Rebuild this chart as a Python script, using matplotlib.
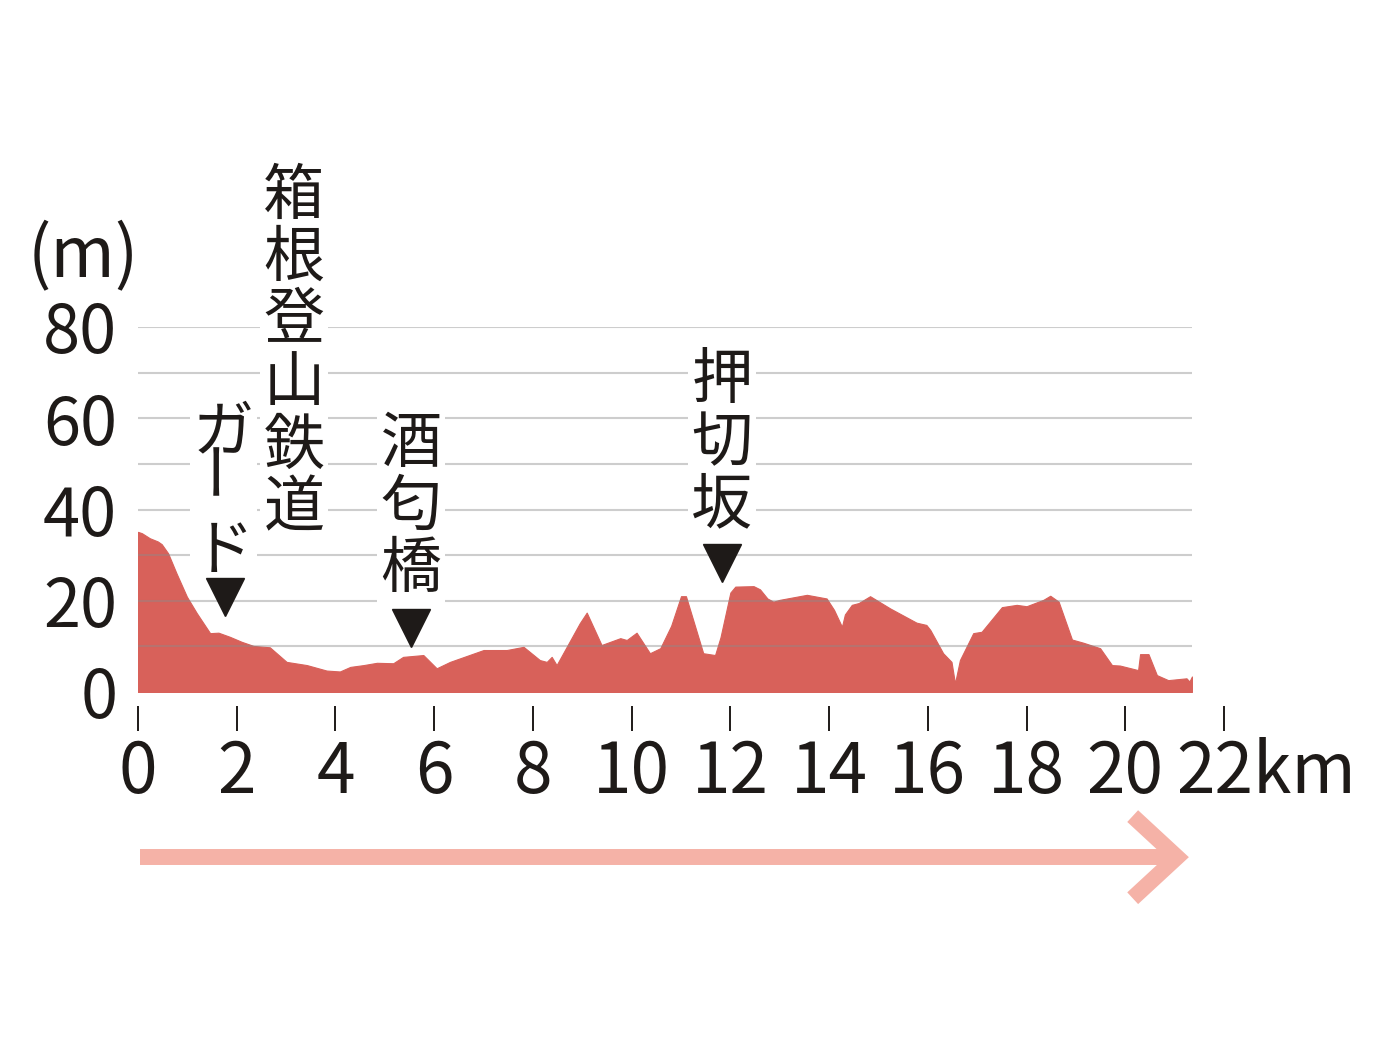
import matplotlib
matplotlib.use('Agg')
import matplotlib.pyplot as plt
from matplotlib.transforms import ScaledTranslation

plt.rcParams['font.family'] = ['Noto Sans CJK JP', 'DejaVu Sans']

# elevation profile (km, m)
dist_km = [0.0, 0.08, 0.24, 0.40, 0.48, 0.61, 0.78, 0.99, 1.19, 1.46, 1.63, 1.86,
           2.10, 2.34, 2.67, 3.01, 3.42, 3.82, 4.09, 4.30, 4.57, 4.84, 5.17, 5.37,
           5.78, 6.05, 6.32, 7.00, 7.47, 7.81, 8.14, 8.28, 8.38, 8.48, 8.95, 9.09,
           9.39, 9.77, 9.90, 10.10, 10.37, 10.58, 10.80, 11.00, 11.10, 11.45, 11.69,
           11.80, 12.00, 12.10, 12.47, 12.60, 12.75, 12.87, 13.00, 13.30, 13.55,
           13.95, 14.10, 14.26, 14.32, 14.46, 14.60, 14.83, 15.24, 15.77, 15.97,
           16.05, 16.31, 16.48, 16.55, 16.65, 16.92, 17.09, 17.50, 17.80, 18.00,
           18.34, 18.48, 18.65, 18.92, 19.15, 19.49, 19.73, 19.89, 20.26, 20.30,
           20.47, 20.64, 20.87, 21.24, 21.30, 21.35]
elev_m = [35.1, 34.8, 33.7, 33.0, 32.4, 30.4, 26.0, 20.9, 17.3, 12.9, 13.0, 12.1,
          11.0, 10.1, 9.8, 6.6, 5.9, 4.7, 4.5, 5.5, 5.9, 6.4, 6.3, 7.7,
          8.1, 5.2, 6.6, 9.2, 9.2, 9.9, 7.0, 6.6, 7.7, 5.9, 15.1, 17.4,
          10.3, 11.8, 11.4, 13.0, 8.5, 9.6, 14.5, 21.0, 21.0, 8.5, 8.1,
          12.0, 21.8, 23.1, 23.2, 22.5, 20.5, 19.8, 20.2, 20.8, 21.3,
          20.5, 18.0, 14.3, 17.0, 19.1, 19.5, 21.0, 18.3, 15.2, 14.7,
          13.6, 8.5, 6.6, 1.9, 7.0, 12.9, 13.2, 18.6, 19.1, 18.8,
          20.2, 21.1, 19.8, 11.5, 10.8, 9.6, 5.9, 5.8, 4.8, 8.3,
          8.3, 3.7, 2.6, 3.0, 2.3, 3.4]

y_ticks = [0, 20, 40, 60, 80]
grid_levels = [10, 20, 30, 40, 50, 60, 70, 80]
x_ticks = [0, 2, 4, 6, 8, 10, 12, 14, 16, 18, 20, 22]
x_labels = ['0', '2', '4', '6', '8', '10', '12', '14', '16', '18', '20', '22km']

# landmarks
landmark_names = ['酒匂橋', '押切坂']
landmark_km = [5.53, 11.83]
landmark_y = [14.0, 28.3]
landmark_top = [61.0, 75.0]
guard_km = 1.76
guard_y = 20.8

INK = '#1e1a18'
FILL = '#d8615a'
PINK = '#f5b2a7'

fig = plt.figure(figsize=(13.86, 10.53), dpi=100)
ax = fig.add_axes([138 / 1386, 1 - 692 / 1053, 1086 / 1386, 365 / 1053])
ax.set_xlim(0, 22)
ax.set_ylim(0, 80)

ax.fill_between(dist_km, elev_m, 0, color=FILL, lw=0.8, zorder=2)
ax.hlines(grid_levels, 0, dist_km[-1], colors='#8a8a8a', lw=1.5, alpha=0.42, zorder=3)

for s in ax.spines.values():
    s.set_visible(False)
ax.spines['bottom'].set_position(('outward', 10))

ax.set_yticks(y_ticks)
ax.set_yticklabels([str(v) for v in y_ticks], fontsize=48, color=INK)
ax.tick_params(axis='y', length=0, pad=15)
ax.set_xticks(x_ticks)
ax.set_xticklabels(x_labels, fontsize=50, color=INK)
ax.tick_params(axis='x', length=18, width=1.4, color=INK, pad=5)
# keep "22" centred on its tick, "km" hangs to the right
last = ax.get_xticklabels()[-1]
last.set_transform(last.get_transform() + ScaledTranslation(0.42, 0, fig.dpi_scale_trans))

ax.text(-1.11, 95.3, '(m)', fontsize=50, color=INK, ha='center', va='center', clip_on=False)

# markers
ax.plot(landmark_km + [guard_km], landmark_y + [guard_y], linestyle='none', marker='v',
        ms=27, color=INK, zorder=5, clip_on=False)

box = dict(facecolor='white', edgecolor='none', pad=2)
for name, km, top in zip(landmark_names, landmark_km, landmark_top):
    ax.text(km, top, '\n'.join(name), fontsize=44, color=INK, ha='center', va='top',
            linespacing=1.0, bbox=box, zorder=4, clip_on=False)

ax.text(3.16, 115.5, '\n'.join('箱根登山鉄道'), fontsize=44, color=INK, ha='center',
        va='top', linespacing=1.0, bbox=box, zorder=4, clip_on=False)
# ガード written vertically: the long-vowel bar is turned upright
ax.text(guard_km - 0.03, 63.5, 'ガ\n\u3000\nド', fontsize=44, color=INK, ha='center',
        va='top', linespacing=0.93, bbox=box, zorder=4, clip_on=False)
ax.text(guard_km - 0.16, 49.8, 'ー', fontsize=44, color=INK, ha='center', va='center',
        rotation=90, zorder=5, clip_on=False)

# direction arrow
arrow_y = -36.2
ax.plot([0.04, 21.0], [arrow_y, arrow_y], color=PINK, lw=11.5, solid_capstyle='butt',
        clip_on=False)
ax.plot([20.15, 21.05, 20.15], [arrow_y + 9.0, arrow_y, arrow_y - 9.0], color=PINK,
        lw=11.5, solid_joinstyle='miter', solid_capstyle='butt', clip_on=False)

fig.savefig('out.png', dpi=100, facecolor='white')
